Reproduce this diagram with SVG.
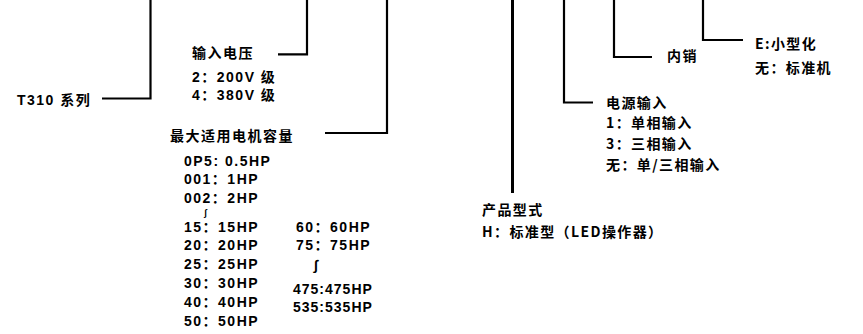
<svg xmlns="http://www.w3.org/2000/svg" width="863" height="334" viewBox="0 0 863 334">
<style>
  .t{font-family:"Liberation Sans","Noto Sans CJK SC",sans-serif;font-weight:bold;font-size:14px;letter-spacing:1.5px;fill:#000}
  .c{font-family:"Noto Sans CJK SC","Liberation Sans",sans-serif;font-weight:bold;font-size:14px;letter-spacing:1.4px;fill:#000}
  .ln{fill:none;stroke:#000;stroke-width:2.2}
</style>
<rect width="863" height="334" fill="#fff"/>
<g id="connectors">
  <polyline class="ln" points="150.5,0 150.5,98.5 102,98.5"/>
  <polyline class="ln" points="307,0 307,54.3 278,54.3"/>
  <polyline class="ln" points="387,0 387,133 325,133"/>
  <polyline class="ln" points="512.5,0 512.5,193" style="stroke-width:3"/>
  <polyline class="ln" points="564,0 564,102.5 593,102.5"/>
  <polyline class="ln" points="614,0 614,57 652,57"/>
  <polyline class="ln" points="703,0 703,40 743,40"/>
</g>
<g id="series"><text class="t" x="17" y="105">T310  系列</text></g>
<g id="voltage">
  <text class="t" x="192" y="58">输入电压</text>
  <text class="t" x="192" y="82">2：200V 级</text>
  <text class="t" x="192" y="100">4：380V 级</text>
</g>
<g id="capacity">
  <text class="t" x="170" y="141">最大适用电机容量</text>
  <text class="t" x="184" y="166">0P5: 0.5HP</text>
  <text class="t" x="184" y="184">001：1HP</text>
  <text class="t" x="184" y="203">002：2HP</text>
  <text class="t" x="204" y="216" style="font-size:9px">ʃ</text>
  <text class="t" x="184" y="232">15：15HP</text>
  <text class="t" x="184" y="250">20：20HP</text>
  <text class="t" x="184" y="269">25：25HP</text>
  <text class="t" x="184" y="288">30：30HP</text>
  <text class="t" x="184" y="307">40：40HP</text>
  <text class="t" x="184" y="326">50：50HP</text>
  <text class="t" x="296" y="232">60：60HP</text>
  <text class="t" x="296" y="250">75：75HP</text>
  <text class="t" x="314" y="270">∫</text>
  <text class="t" x="293" y="294" style="letter-spacing:1px">475:475HP</text>
  <text class="t" x="293" y="312" style="letter-spacing:1px">535:535HP</text>
</g>
<g id="type">
  <text class="c" x="482" y="215">产品型式</text>
  <text class="c" x="482" y="237">H：标准型（LED操作器）</text>
</g>
<g id="power">
  <text class="c" x="606" y="108">电源输入</text>
  <text class="c" x="606" y="128">1：单相输入</text>
  <text class="c" x="606" y="149">3：三相输入</text>
  <text class="c" x="606" y="170">无：单/三相输入</text>
</g>
<g id="domestic"><text class="c" x="667" y="61">内销</text></g>
<g id="size">
  <text class="c" x="755" y="49">E:小型化</text>
  <text class="c" x="755" y="73">无：标准机</text>
</g>
</svg>
